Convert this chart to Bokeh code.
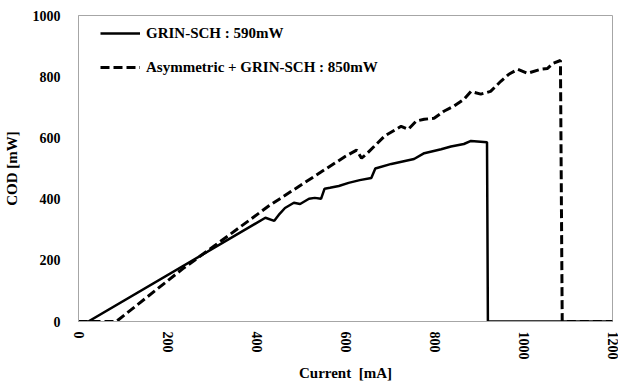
from bokeh.plotting import figure
from bokeh.models import Range1d, FixedTicker, Legend, LegendItem
from bokeh.embed import file_html
from bokeh.resources import INLINE

# GRIN-SCH (solid)
current_a = [0, 22, 420, 440, 452, 464, 484, 498, 518, 531, 545, 553, 565, 585, 607, 632,
             658, 667, 703, 754, 777, 815, 837, 866, 882, 918, 920, 1200]
cod_a = [0, 0, 339, 329, 352, 371, 388, 384, 401, 404, 401, 434, 437, 443, 453, 462,
         469, 500, 515, 531, 550, 563, 572, 580, 590, 586, 0, 0]

# Asymmetric + GRIN-SCH (dashed)
current_b = [0, 85, 234, 308, 428, 520, 600, 625, 636, 647, 665, 688, 725, 741, 759, 777,
             799, 821, 844, 866, 882, 904, 926, 949, 967, 987, 1009, 1038, 1054, 1067,
             1083, 1087, 1200]
cod_b = [0, 0, 172, 250, 378, 465, 540, 560, 534, 547, 573, 606, 638, 628, 655, 661,
         664, 687, 704, 726, 752, 743, 752, 785, 808, 824, 811, 824, 827, 844,
         853, 0, 0]

x_ticks = [0, 200, 400, 600, 800, 1000, 1200]
y_ticks = [0, 200, 400, 600, 800, 1000]
label_a = "GRIN-SCH : 590mW"
label_b = "Asymmetric + GRIN-SCH : 850mW"

FONT = "Liberation Serif"

p = figure(width=618, height=383, output_backend="svg", toolbar_location=None,
           x_range=Range1d(0, 1200), y_range=Range1d(0, 1000))
p.min_border_left = 75
p.min_border_right = 6
p.min_border_top = 15
p.min_border_bottom = 62
p.background_fill_color = "white"
p.border_fill_color = "white"
p.outline_line_color = "#a6a6a6"
p.outline_line_width = 1
p.grid.visible = False

r_a = p.line(current_a, cod_a, line_color="black", line_width=2.5)
r_b = p.line(current_b, cod_b, line_color="black", line_width=3, line_dash="9 4")

for ax in (p.xaxis[0], p.yaxis[0]):
    ax.axis_line_color = "#a6a6a6"
    ax.major_tick_line_color = None
    ax.minor_tick_line_color = None
    ax.major_label_text_font = FONT
    ax.major_label_text_font_style = "bold"
    ax.major_label_text_font_size = "14px"
    ax.major_label_text_color = "black"
    ax.axis_label_text_font = FONT
    ax.axis_label_text_font_style = "bold"
    ax.axis_label_text_font_size = "15px"
    ax.axis_label_text_color = "black"

p.xaxis.ticker = FixedTicker(ticks=x_ticks)
p.yaxis.ticker = FixedTicker(ticks=y_ticks)
p.xaxis.major_label_orientation = "vertical"
p.xaxis.major_label_standoff = 4
p.yaxis.major_label_standoff = 12
p.xaxis.axis_label = "Current\u00a0 [mA]"
p.yaxis.axis_label = "COD [mW]"
p.xaxis.axis_label_standoff = 2
p.yaxis.axis_label_standoff = 10

legend = Legend(items=[LegendItem(label=label_a, renderers=[r_a]),
                       LegendItem(label=label_b, renderers=[r_b])],
                location=(22, 244))
legend.border_line_color = None
legend.background_fill_alpha = 0
legend.padding = 5
legend.glyph_width = 40
legend.glyph_height = 20
legend.label_height = 20
legend.spacing = 14
legend.label_standoff = 6
legend.label_text_font = FONT
legend.label_text_font_style = "bold"
legend.label_text_font_size = "15px"
legend.label_text_color = "black"
p.add_layout(legend, "center")

open("out.html", "w").write(file_html(p, INLINE))
